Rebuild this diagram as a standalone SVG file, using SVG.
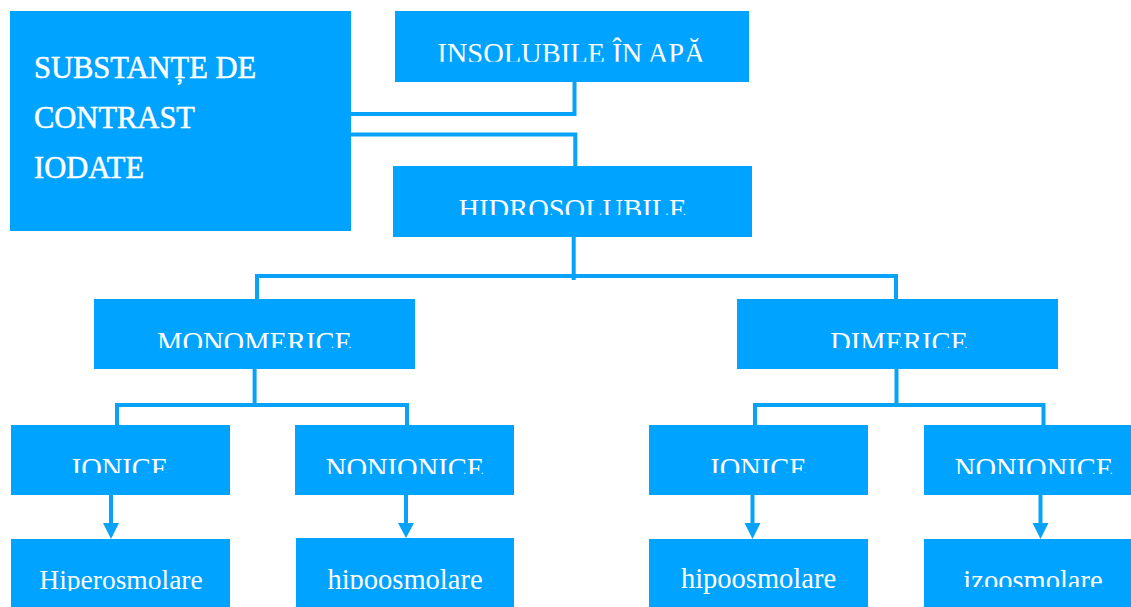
<svg xmlns="http://www.w3.org/2000/svg" width="1131" height="607" viewBox="0 0 1131 607">
<style>
.box{fill:#00A3FF}
.lbl{fill:#FFFFFF;font-size:28.5px;text-anchor:middle}
.root{fill:#FFFFFF;stroke:#FFFFFF;stroke-width:0.5;font-size:30.5px}
.ln{fill:none;stroke:#08A2F8;stroke-width:4;stroke-linejoin:miter}
.ah{fill:#08A2F8}
</style>
<defs>
<clipPath id="c-ins"><rect x="395" y="11" width="354" height="50.7"/></clipPath>
<clipPath id="c-hid"><rect x="393" y="166" width="359" height="49"/></clipPath>
<clipPath id="c-mon"><rect x="94" y="299" width="321" height="49"/></clipPath>
<clipPath id="c-dim"><rect x="737" y="299" width="321" height="49"/></clipPath>
<clipPath id="c-ion1"><rect x="11" y="425" width="219" height="48"/></clipPath>
<clipPath id="c-non1"><rect x="295" y="425" width="219" height="49"/></clipPath>
<clipPath id="c-ion2"><rect x="649" y="425" width="219" height="48"/></clipPath>
<clipPath id="c-non2"><rect x="924" y="425" width="219" height="49"/></clipPath>
<clipPath id="c-hip1"><rect x="11" y="539" width="219" height="52"/></clipPath>
<clipPath id="c-hip2"><rect x="296" y="538" width="218" height="51"/></clipPath>
<clipPath id="c-izo"><rect x="924" y="539" width="219" height="48"/></clipPath>
</defs>

<g id="connectors">
<polyline class="ln" points="351,114 574.5,114 574.5,82"/>
<polyline class="ln" points="351,134.5 575.3,134.5 575.3,166"/>
<line class="ln" x1="573.7" y1="237" x2="573.7" y2="280"/>
<polyline class="ln" points="257,299 257,276 896,276 896,299"/>
<line class="ln" x1="254.6" y1="369" x2="254.6" y2="405"/>
<polyline class="ln" points="117,425 117,405 407,405 407,425"/>
<line class="ln" x1="896.5" y1="369" x2="896.5" y2="405"/>
<polyline class="ln" points="755,425 755,405 1043.5,405 1043.5,425"/>
<line class="ln" x1="111" y1="495" x2="111" y2="524"/>
<polygon class="ah" points="103,523 119,523 111,539"/>
<line class="ln" x1="406" y1="495" x2="406" y2="524"/>
<polygon class="ah" points="398,523 414,523 406,538"/>
<line class="ln" x1="752.5" y1="495" x2="752.5" y2="524"/>
<polygon class="ah" points="744.5,523 760.5,523 752.5,539"/>
<line class="ln" x1="1040.5" y1="495" x2="1040.5" y2="524"/>
<polygon class="ah" points="1032.5,523 1048.5,523 1040.5,539"/>
</g>

<g id="root" font-family="'Liberation Serif', serif">
<rect class="box" x="10" y="11" width="341" height="220"/>
<text class="root" x="34" y="78.3">SUBSTANȚE DE</text>
<text class="root" x="34" y="128.3">CONTRAST</text>
<text class="root" x="34" y="177.7">IODATE</text>
</g>

<g id="insolubile" font-family="'Liberation Serif', serif">
<rect class="box" x="395" y="11" width="354" height="71"/>
<text class="lbl" x="571" y="62.5" clip-path="url(#c-ins)">INSOLUBILE ÎN APĂ</text>
</g>

<g id="hidrosolubile" font-family="'Liberation Serif', serif">
<rect class="box" x="393" y="166" width="359" height="71"/>
<text class="lbl" x="572.5" y="219" clip-path="url(#c-hid)">HIDROSOLUBILE</text>
</g>

<g id="monomerice" font-family="'Liberation Serif', serif">
<rect class="box" x="94" y="299" width="321" height="70"/>
<text class="lbl" x="254.5" y="352" clip-path="url(#c-mon)">MONOMERICE</text>
</g>

<g id="dimerice" font-family="'Liberation Serif', serif">
<rect class="box" x="737" y="299" width="321" height="70"/>
<text class="lbl" x="899" y="352" clip-path="url(#c-dim)">DIMERICE</text>
</g>

<g id="ionice-mono" font-family="'Liberation Serif', serif">
<rect class="box" x="11" y="425" width="219" height="70"/>
<text class="lbl" x="120" y="478" clip-path="url(#c-ion1)">IONICE</text>
</g>

<g id="nonionice-mono" font-family="'Liberation Serif', serif">
<rect class="box" x="295" y="425" width="219" height="70"/>
<text class="lbl" x="405" y="478" clip-path="url(#c-non1)">NONIONICE</text>
</g>

<g id="ionice-dim" font-family="'Liberation Serif', serif">
<rect class="box" x="649" y="425" width="219" height="70"/>
<text class="lbl" x="758.5" y="478" clip-path="url(#c-ion2)">IONICE</text>
</g>

<g id="nonionice-dim" font-family="'Liberation Serif', serif">
<rect class="box" x="924" y="425" width="219" height="70"/>
<text class="lbl" x="1034" y="478" clip-path="url(#c-non2)">NONIONICE</text>
</g>

<g id="hiperosmolare" font-family="'Liberation Serif', serif">
<rect class="box" x="11" y="539" width="219" height="70"/>
<text class="lbl" x="121" y="589" style="font-size:27.5px" clip-path="url(#c-hip1)">Hiperosmolare</text>
</g>

<g id="hipoosmolare-mono" font-family="'Liberation Serif', serif">
<rect class="box" x="296" y="538" width="218" height="71"/>
<text class="lbl" x="405" y="589" clip-path="url(#c-hip2)">hipoosmolare</text>
</g>

<g id="hipoosmolare-dim" font-family="'Liberation Serif', serif">
<rect class="box" x="649" y="539" width="219" height="70"/>
<text class="lbl" x="758.5" y="588">hipoosmolare</text>
</g>

<g id="izoosmolare" font-family="'Liberation Serif', serif">
<rect class="box" x="924" y="539" width="219" height="70"/>
<text class="lbl" x="1033" y="590" clip-path="url(#c-izo)">izoosmolare</text>
</g>
</svg>
